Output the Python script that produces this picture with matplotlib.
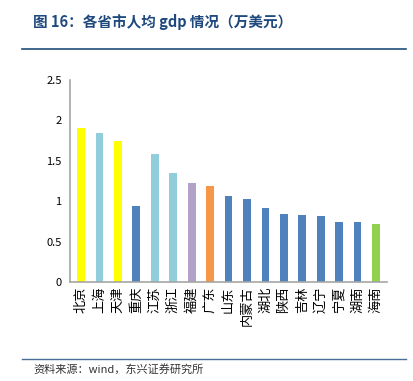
import matplotlib
matplotlib.use("Agg")
import matplotlib.pyplot as plt

plt.rcParams['font.family'] = ['Noto Sans CJK SC', 'DejaVu Sans']

# data
provinces = ['北京', '上海', '天津', '重庆', '江苏', '浙江', '福建', '广东', '山东',
             '内蒙古', '湖北', '陕西', '吉林', '辽宁', '宁夏', '湖南', '海南']
gdp_per_capita = [1.91, 1.85, 1.745, 0.94, 1.58, 1.35, 1.22, 1.19, 1.07,
                  1.03, 0.92, 0.845, 0.83, 0.815, 0.74, 0.74, 0.715]
bar_colors = ['#FFFF00', '#92CDDC', '#FFFF00', '#4F81BD', '#92CDDC', '#92CDDC',
              '#B3A2C7', '#F79646', '#4F81BD', '#4F81BD', '#4F81BD', '#4F81BD',
              '#4F81BD', '#4F81BD', '#4F81BD', '#4F81BD', '#92D050']
yticks = [0, 0.5, 1, 1.5, 2, 2.5]

fig = plt.figure(figsize=(4.14, 3.81), dpi=100)
ax = fig.add_axes([0.169, 0.260, 0.766, 0.530])

x = range(len(provinces))
ax.bar(x, gdp_per_capita, width=0.42, color=bar_colors)
ax.set_xlim(-0.6, len(provinces) - 0.4)
ax.set_ylim(0, 2.5)
ax.set_yticks(yticks)
ax.set_yticklabels([f'{t:g}' for t in yticks], fontsize=8)
ax.set_xticks(list(x))
ax.set_xticklabels(provinces, fontsize=9.5, rotation=90, ha='center', va='top')
ax.tick_params(length=0, pad=6)
ax.tick_params(axis='x', pad=3)
for side in ['top', 'right']:
    ax.spines[side].set_visible(False)
for side in ['left', 'bottom']:
    ax.spines[side].set_color('#A6A6A6')
    ax.spines[side].set_linewidth(1.2)

# title and source
fig.text(0.080, 0.943, '图 16：各省市人均 gdp 情况（万美元）', fontsize=10.5,
         fontweight='bold', color='#1F497D', va='center')
fig.add_artist(plt.Line2D([0.053, 0.98], [0.871, 0.871], color='#1F4E79',
                          linewidth=1.2, transform=fig.transFigure))
fig.add_artist(plt.Line2D([0.053, 0.98], [0.058, 0.058], color='#4A6F96',
                          linewidth=1.0, transform=fig.transFigure))
fig.text(0.080, 0.030, '资料来源：wind，东兴证券研究所', fontsize=8,
         style='italic', color='#333333', va='center')

fig.savefig('out.png', dpi=100)
